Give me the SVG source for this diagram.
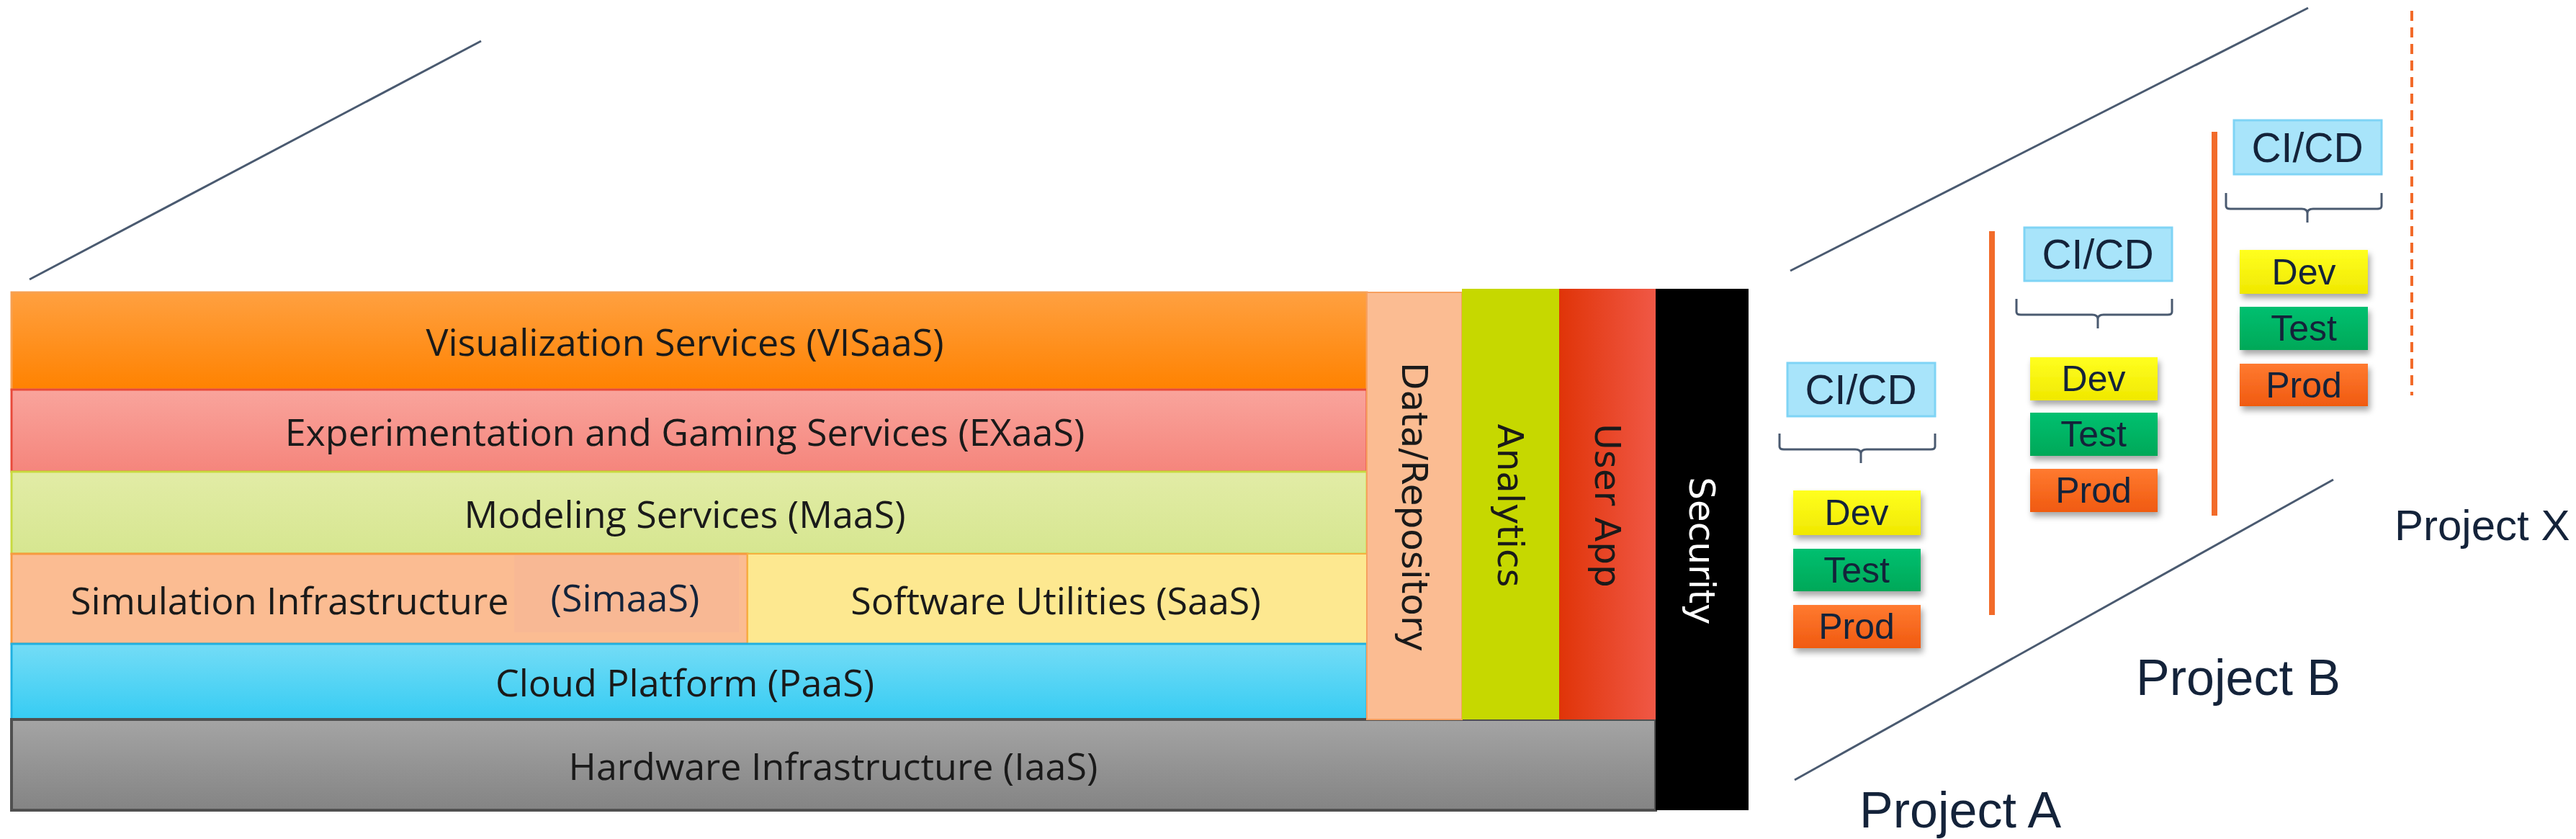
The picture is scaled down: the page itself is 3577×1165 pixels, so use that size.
<svg xmlns="http://www.w3.org/2000/svg" width="3577" height="1165" viewBox="0 0 3577 1165">
<defs>
<linearGradient id="gOr" x1="0" y1="0" x2="0" y2="1"><stop offset="0" stop-color="#ffa040"/><stop offset="1" stop-color="#ff8200"/></linearGradient>
<linearGradient id="gEx" x1="0" y1="0" x2="0" y2="1"><stop offset="0" stop-color="#f9a49c"/><stop offset="1" stop-color="#f5857c"/></linearGradient>
<linearGradient id="gMa" x1="0" y1="0" x2="0" y2="1"><stop offset="0" stop-color="#e2eca6"/><stop offset="1" stop-color="#d6e690"/></linearGradient>
<linearGradient id="gPa" x1="0" y1="0" x2="0" y2="1"><stop offset="0" stop-color="#74dcf6"/><stop offset="1" stop-color="#36ccf3"/></linearGradient>
<linearGradient id="gIa" x1="0" y1="0" x2="0" y2="1"><stop offset="0" stop-color="#a4a4a4"/><stop offset="1" stop-color="#848484"/></linearGradient>
<linearGradient id="gUa" x1="0" y1="0" x2="1" y2="0"><stop offset="0" stop-color="#e03408"/><stop offset="1" stop-color="#f05846"/></linearGradient>
<linearGradient id="gDev" x1="0" y1="0" x2="0" y2="1"><stop offset="0" stop-color="#ffff20"/><stop offset="1" stop-color="#f0e800"/></linearGradient>
<linearGradient id="gTest" x1="0" y1="0" x2="0" y2="1"><stop offset="0" stop-color="#00c070"/><stop offset="1" stop-color="#00a858"/></linearGradient>
<linearGradient id="gProd" x1="0" y1="0" x2="0" y2="1"><stop offset="0" stop-color="#ff7a30"/><stop offset="1" stop-color="#f05a10"/></linearGradient>
<filter id="sh" x="-10%" y="-20%" width="130%" height="160%"><feDropShadow dx="3" dy="6" stdDeviation="4" flood-color="#000" flood-opacity="0.35"/></filter>
</defs>
<style>
.lt{font-family:"Open Sans","DejaVu Sans",sans-serif;font-size:52px;fill:#1a1a1a;dominant-baseline:central}
.vt{font-family:"DejaVu Sans",Verdana,sans-serif;font-size:50px;fill:#1a1a1a;text-anchor:middle;dominant-baseline:central}
.ci{fill:#a8e4fa;stroke:#7fd4f5;stroke-width:3}
.ct{font-family:"Liberation Sans",Arial,sans-serif;font-size:57px;fill:#14233a;text-anchor:middle;dominant-baseline:central}
.st{font-family:"Liberation Sans",Arial,sans-serif;font-size:50px;fill:#14233a;text-anchor:middle;dominant-baseline:central}
.pt{font-family:"Liberation Sans",Arial,sans-serif;font-size:70px;fill:#14233a}
.gl{stroke:#4a5a70;stroke-width:3;fill:none}
.br{stroke:#4a5a70;stroke-width:3;fill:none}
.ol{stroke:#f26b2a;stroke-width:8}
</style>
<rect width="3577" height="1165" fill="#fff"/>
<g id="guides">
<line class="gl" x1="41" y1="388" x2="668" y2="57"/>
<line class="gl" x1="2486" y1="376" x2="3205" y2="11"/>
<line class="gl" x1="2492" y1="1083" x2="3240" y2="666"/>
</g>
<g id="visaas"><rect x="16" y="406" width="1882" height="135" fill="url(#gOr)" stroke="#f7a050" stroke-width="3"/><text class="lt" x="951" y="473" text-anchor="middle">Visualization Services (VISaaS)</text></g>
<g id="exaas"><rect x="16" y="541" width="1882" height="114" fill="url(#gEx)" stroke="#e84a3a" stroke-width="3"/><text class="lt" x="951" y="598" text-anchor="middle">Experimentation and Gaming Services (EXaaS)</text></g>
<g id="maas"><rect x="16" y="655" width="1882" height="114" fill="url(#gMa)" stroke="#c8da40" stroke-width="3"/><text class="lt" x="951" y="712" text-anchor="middle">Modeling Services (MaaS)</text></g>
<g id="simaas"><rect x="16" y="769" width="1022" height="125" fill="#fbbc92" stroke="#f79a40" stroke-width="3"/><rect x="714" y="771" width="312" height="107" fill="#f8b894"/><text class="lt" x="98" y="832" text-anchor="start">Simulation Infrastructure</text><text class="lt" x="868" y="828" text-anchor="middle" style="fill:#14233a">(SimaaS)</text></g>
<g id="saas"><rect x="1038" y="769" width="860" height="125" fill="#fde890" stroke="#f7b040" stroke-width="2"/><text class="lt" x="1466" y="832" text-anchor="middle">Software Utilities (SaaS)</text></g>
<g id="paas"><rect x="16" y="894" width="1882" height="105" fill="url(#gPa)" stroke="#20b0e0" stroke-width="3"/><text class="lt" x="951" y="946" text-anchor="middle">Cloud Platform (PaaS)</text></g>
<g id="iaas"><rect x="16" y="999" width="2283" height="126" fill="url(#gIa)" stroke="#505050" stroke-width="4"/><text class="lt" x="1157" y="1062" text-anchor="middle">Hardware Infrastructure (IaaS)</text></g>
<g id="data"><rect x="1898" y="406" width="132" height="593" fill="#fbbc92" stroke="#f7a060" stroke-width="2"/><text class="vt" transform="translate(1964,704) rotate(90)">Data/Repository</text></g>
<g id="analytics"><rect x="2030" y="401" width="135" height="598" fill="#c6d800"/><text class="vt" transform="translate(2097,702) rotate(90)">Analytics</text></g>
<g id="userapp"><rect x="2165" y="401" width="134" height="598" fill="url(#gUa)"/><text class="vt" transform="translate(2232,702) rotate(90)">User App</text></g>
<g id="security"><rect x="2299" y="401" width="129" height="724" fill="#000"/><text class="vt" style="fill:#fff" transform="translate(2363,765) rotate(90)">Security</text></g>
<g id="separators">
<line class="ol" x1="2766" y1="321" x2="2766" y2="854"/>
<line class="ol" x1="3075" y1="183" x2="3075" y2="716"/>
<line stroke="#f26b2a" stroke-width="4" stroke-dasharray="14,9" x1="3349" y1="15" x2="3349" y2="549"/>
</g>
<g id="projA">
<rect class="ci" x="2482" y="504" width="205" height="74"/><text class="ct" x="2584" y="541">CI/CD</text>
<path class="br" d="M2471,602 v18 q0,4 6,4 h99 q8,0 8,6 v13 M2584,630 q0,-6 8,-6 h89 q6,0 6,-4 v-18"/>
<rect x="2490" y="681" width="177" height="62" fill="url(#gDev)" filter="url(#sh)"/><text class="st" x="2578" y="712">Dev</text>
<rect x="2490" y="762" width="177" height="59" fill="url(#gTest)" filter="url(#sh)"/><text class="st" x="2578" y="792">Test</text>
<rect x="2490" y="840" width="177" height="60" fill="url(#gProd)" filter="url(#sh)"/><text class="st" x="2578" y="870">Prod</text>
<text class="pt" x="2582" y="1149">Project A</text>
</g>
<g id="projB">
<rect class="ci" x="2811" y="316" width="205" height="74"/><text class="ct" x="2913" y="353">CI/CD</text>
<path class="br" d="M2800,415 v18 q0,4 6,4 h99 q8,0 8,6 v13 M2913,443 q0,-6 8,-6 h89 q6,0 6,-4 v-18"/>
<rect x="2819" y="496" width="177" height="60" fill="url(#gDev)" filter="url(#sh)"/><text class="st" x="2907" y="526">Dev</text>
<rect x="2819" y="573" width="177" height="60" fill="url(#gTest)" filter="url(#sh)"/><text class="st" x="2907" y="603">Test</text>
<rect x="2819" y="651" width="177" height="60" fill="url(#gProd)" filter="url(#sh)"/><text class="st" x="2907" y="681">Prod</text>
<text class="pt" x="2966" y="965">Project B</text>
</g>
<g id="projX">
<rect class="ci" x="3102" y="167" width="205" height="75"/><text class="ct" x="3204" y="205">CI/CD</text>
<path class="br" d="M3091,268 v18 q0,4 6,4 h99 q8,0 8,6 v13 M3204,296 q0,-6 8,-6 h89 q6,0 6,-4 v-18"/>
<rect x="3110" y="347" width="178" height="61" fill="url(#gDev)" filter="url(#sh)"/><text class="st" x="3199" y="378">Dev</text>
<rect x="3110" y="426" width="178" height="60" fill="url(#gTest)" filter="url(#sh)"/><text class="st" x="3199" y="456">Test</text>
<rect x="3110" y="505" width="178" height="59" fill="url(#gProd)" filter="url(#sh)"/><text class="st" x="3199" y="535">Prod</text>
<text class="pt" x="3325" y="750" style="font-size:60px">Project X</text>
</g>
</svg>
